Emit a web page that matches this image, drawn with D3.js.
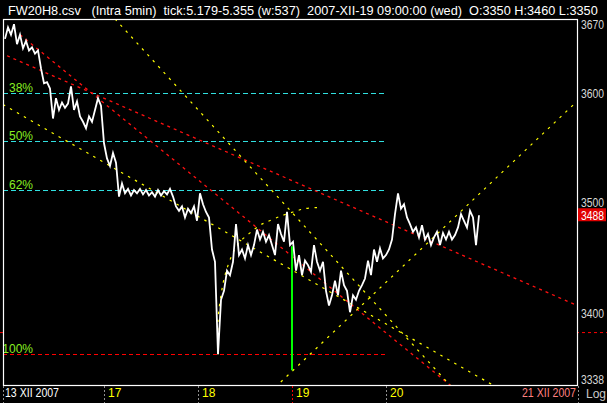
<!DOCTYPE html>
<html><head><meta charset="utf-8">
<script src="https://cdnjs.cloudflare.com/ajax/libs/d3/7.8.5/d3.min.js"></script>
<style>
html,body{margin:0;padding:0;background:#000;overflow:hidden}
svg{display:block}
text{font-family:"Liberation Sans",Arial,sans-serif}
</style>
</head><body>
<svg id="c" width="607" height="403"></svg>
<script>
// ---------- data ----------
const titleText = "FW20H8.csv   (Intra 5min)  tick:5.179-5.355 (w:537)  2007-XII-19 09:00:00 (wed)  O:3350 H:3460 L:3350";
const dayStarts = [0, 101, 195, 289, 383];
const dayLabels = ["13 XII 2007", "17", "18", "19", "20"];
const endBar = 574;
const endLabel = "21 XII 2007";
const priceTicks = [3670, 3600, 3500, 3400, 3338];
const priceDomain = [3338, 3670];
const lastPrice = 3488;
const fibHigh = 3748, fibLow = 3364;
const fibLevels = [0.382, 0.5, 0.618, 1];
const fibLabels = ["38%", "50%", "62%", "100%"];
const fibEndBar = 383;
const priceStartBar = 2, priceStepBars = 3;
const prices = [
 3652,3663,3656,3666,3647,3656,3643,3650,3641,3644,3638,3641,3624,3610,3611,3605,3577,3596,3585,3592,
 3587,3591,3607,3585,3593,3579,3574,3568,3579,3574,3585,3596,3589,3554,3540,3533,3545,3536,3505,3517,
 3508,3512,3506,3511,3508,3512,3507,3511,3506,3509,3505,3511,3506,3510,3507,3512,3505,3496,3492,3496,
 3486,3494,3490,3496,3483,3508,3498,3491,3486,3457,3446,3364,3412,3420,3438,3434,3446,3480,3452,3457,
 3449,3461,3452,3461,3475,3466,3473,3464,3470,3461,3452,3480,3471,3464,3491,3461,3464,3438,3452,3434,
 3447,3443,3437,3461,3446,3438,3446,3420,3407,3416,3429,3416,3438,3425,3420,3401,3416,3412,3420,3425,
 3431,3447,3434,3457,3446,3458,3449,3452,3457,3466,3489,3508,3494,3498,3486,3480,3473,3477,3468,3479,
 3466,3471,3461,3468,3473,3461,3472,3466,3473,3466,3470,3477,3489,3483,3477,3492,3486,3461,3488
];
const yellowLines = [
  [[112, 3671], [449, 3335]],
  [[0, 3590], [494, 3335]],
  [[272, 3335], [574, 3593]]
];
const redLines = [
  [[17, 3656], [450, 3335]],
  [[4, 3636], [574, 3407]]
];
const arcPoints = [[215,3364],[215,3394],[218,3416],[222,3434],[230,3454],[237,3464],[247,3472],[257,3479],[264,3482],[277,3487],[290,3491],[302,3494],[314,3495]];
const markBar = 289, markHigh = 3460, markLow = 3350;
const hiddenLevel = 3383;

// ---------- drawing ----------
const svg = d3.select("#c");
const W = 607, H = 403;
const plot = {l: 3, t: 19, r: 577, b: 385};
const x = d3.scaleLinear().domain([0, endBar]).range([3, 577]);
const y = d3.scaleLog().domain(priceDomain).range([384, 20]);

svg.append("rect").attr("width", W).attr("height", H).attr("fill", "#000");

// hidden level line (shows only outside plot)
svg.append("line").attr("x1", 0).attr("x2", W)
  .attr("y1", y(hiddenLevel)).attr("y2", y(hiddenLevel))
  .attr("stroke", "#ff0000").attr("stroke-dasharray", "3,3");
svg.append("rect").attr("x", plot.l).attr("y", plot.t)
  .attr("width", plot.r - plot.l).attr("height", plot.b - plot.t).attr("fill", "#000");

// title, condensed horizontally to fit
const tg = svg.append("g");
const tt = tg.append("text").attr("x", 0).attr("y", 0)
  .attr("fill", "#fff").attr("font-size", 13)
  .style("white-space", "pre").text(titleText);
const tw = tt.node().getComputedTextLength();
tg.attr("transform", `translate(8,15) scale(${590 / tw},1)`);

svg.append("clipPath").attr("id", "pc").append("rect")
  .attr("x", plot.l).attr("y", plot.t).attr("width", plot.r - plot.l).attr("height", plot.b - plot.t);
const g = svg.append("g").attr("clip-path", "url(#pc)");

// fib levels
fibLevels.forEach((lv, i) => {
  const p = fibHigh - lv * (fibHigh - fibLow);
  const yy = Math.round(y(p)) + 0.5;
  g.append("line").attr("x1", x(0)).attr("x2", x(fibEndBar))
    .attr("y1", yy).attr("y2", yy)
    .attr("stroke", lv === 1 ? "#ff0000" : "#30e0e0")
    .attr("stroke-dasharray", lv === 1 ? "4,3" : "5,3");
  g.append("text").attr("x", 33).attr("y", yy - 1.5)
    .attr("text-anchor", "end").attr("fill", "#88ee22").attr("font-size", 12)
    .text(fibLabels[i]);
});

const lineGen = d3.line().x(d => x(d[0])).y(d => y(d[1]));

// trend lines
redLines.forEach(l => g.append("path").attr("d", lineGen(l)).attr("fill", "none")
  .attr("stroke", "#ff1010").attr("stroke-width", 1.3).attr("stroke-dasharray", "3,4"));
yellowLines.forEach(l => g.append("path").attr("d", lineGen(l)).attr("fill", "none")
  .attr("stroke", "#ffff00").attr("stroke-width", 1.2).attr("stroke-dasharray", "2.5,5.5"));
g.append("path").attr("d", d3.line().x(d => x(d[0])).y(d => y(d[1])).curve(d3.curveCatmullRom)(arcPoints))
  .attr("fill", "none").attr("stroke", "#ffff00").attr("stroke-width", 1.2).attr("stroke-dasharray", "2.5,5.5");

// price line
const pts = prices.map((p, i) => [priceStartBar + i * priceStepBars, p]);
g.append("path").attr("d", lineGen(pts)).attr("fill", "none")
  .attr("stroke", "#fff").attr("stroke-width", 1.8).attr("stroke-linejoin", "miter");

// marker bar
g.append("line").attr("x1", x(markBar)).attr("x2", x(markBar))
  .attr("y1", y(markHigh)).attr("y2", y(markLow))
  .attr("stroke", "#00ff00").attr("stroke-width", 2);

// border
svg.append("rect").attr("x", plot.l + 0.5).attr("y", plot.t + 0.5)
  .attr("width", plot.r - plot.l).attr("height", plot.b - plot.t)
  .attr("fill", "none").attr("stroke", "#fff").attr("stroke-width", 1.2);

// right axis labels
priceTicks.forEach(v => {
  const yy = Math.max(24, Math.min(379, y(v)));
  svg.append("text").attr("x", 581).attr("y", yy + 4.5)
    .attr("fill", "#d8d8d8").attr("font-size", 12)
    .attr("textLength", 23).attr("lengthAdjust", "spacingAndGlyphs")
    .text(v);
});
svg.append("rect").attr("x", 578).attr("y", y(lastPrice) - 7).attr("width", 28).attr("height", 13).attr("fill", "#e00000");
svg.append("text").attr("x", 581).attr("y", y(lastPrice) + 4.5)
  .attr("fill", "#fff").attr("font-size", 12)
  .attr("textLength", 23).attr("lengthAdjust", "spacingAndGlyphs")
  .text(lastPrice);

// bottom axis
const sepBars = dayStarts.concat([endBar + 1]);
sepBars.forEach(b => {
  svg.append("line").attr("x1", Math.round(x(b)) + 0.5).attr("x2", Math.round(x(b)) + 0.5)
    .attr("y1", 386).attr("y2", 403)
    .attr("stroke", b === markBar ? "#ff0000" : "#909090")
    .attr("stroke-width", 1).attr("stroke-dasharray", "2,2");
});
dayLabels.forEach((lab, i) => {
  const t = svg.append("text").attr("x", x(dayStarts[i]) + (i === 0 ? 2 : 4)).attr("y", 397)
    .attr("fill", i === 0 ? "#ffffff" : "#ffff00").attr("font-size", 12).text(lab);
  if (i === 0) t.attr("textLength", 54).attr("lengthAdjust", "spacingAndGlyphs");
});
svg.append("text").attr("x", x(endBar) - 1).attr("y", 397).attr("text-anchor", "end")
  .attr("fill", "#ff8080").attr("font-size", 12)
  .attr("textLength", 54).attr("lengthAdjust", "spacingAndGlyphs").text(endLabel);
svg.append("text").attr("x", 586).attr("y", 398).attr("fill", "#c8c8c8").attr("font-size", 12).text("Log");
</script>
</body></html>
